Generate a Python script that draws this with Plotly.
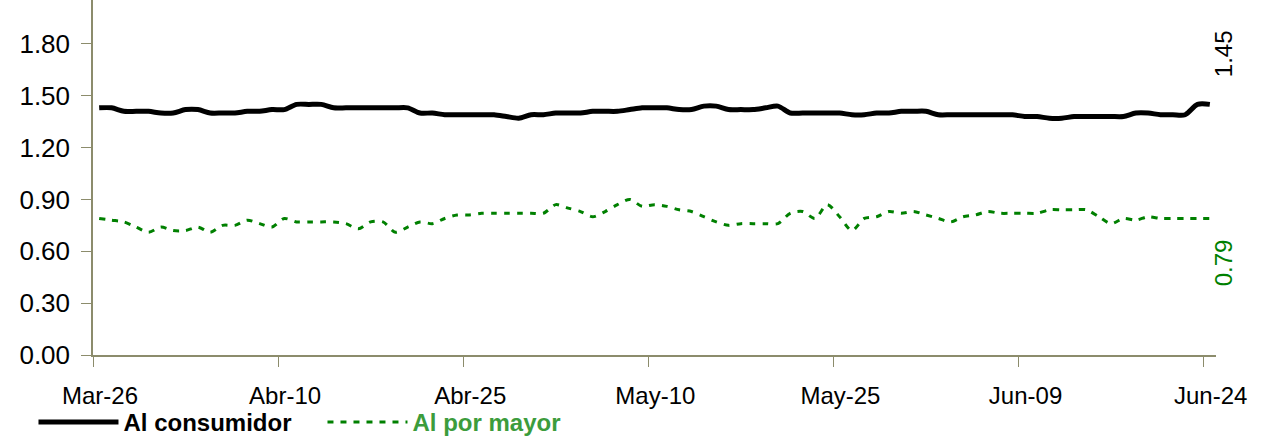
import pandas as pd
import plotly.graph_objects as go

# ---- data ----
dates = pd.date_range("2008-03-26", "2008-06-24", freq="D")

consumidor = [
    1.43, 1.43, 1.41, 1.41, 1.41, 1.40, 1.40, 1.42, 1.42, 1.40,
    1.40, 1.40, 1.41, 1.41, 1.42, 1.42, 1.45, 1.45, 1.45, 1.43,
    1.43, 1.43, 1.43, 1.43, 1.43, 1.43, 1.40, 1.40, 1.39, 1.39,
    1.39, 1.39, 1.39, 1.38, 1.37, 1.39, 1.39, 1.40, 1.40, 1.40,
    1.41, 1.41, 1.41, 1.42, 1.43, 1.43, 1.43, 1.42, 1.42, 1.44,
    1.44, 1.42, 1.42, 1.42, 1.43, 1.44, 1.40, 1.40, 1.40, 1.40,
    1.40, 1.39, 1.39, 1.40, 1.40, 1.41, 1.41, 1.41, 1.39, 1.39,
    1.39, 1.39, 1.39, 1.39, 1.39, 1.38, 1.38, 1.37, 1.37, 1.38,
    1.38, 1.38, 1.38, 1.38, 1.40, 1.40, 1.39, 1.39, 1.39, 1.45,
    1.45,
]

por_mayor = [
    0.79, 0.78, 0.77, 0.74, 0.71, 0.74, 0.72, 0.72, 0.74, 0.71,
    0.75, 0.75, 0.78, 0.76, 0.74, 0.79, 0.77, 0.77, 0.77, 0.77,
    0.76, 0.73, 0.77, 0.77, 0.71, 0.74, 0.77, 0.76, 0.79, 0.81,
    0.81, 0.82, 0.82, 0.82, 0.82, 0.82, 0.82, 0.87, 0.85, 0.83,
    0.80, 0.83, 0.87, 0.90, 0.86, 0.87, 0.86, 0.84, 0.83, 0.80,
    0.77, 0.75, 0.76, 0.76, 0.76, 0.76, 0.82, 0.83, 0.79, 0.87,
    0.80, 0.72, 0.79, 0.80, 0.83, 0.82, 0.83, 0.81, 0.79, 0.77,
    0.80, 0.81, 0.83, 0.82, 0.82, 0.82, 0.82, 0.84, 0.84, 0.84,
    0.84, 0.80, 0.76, 0.79, 0.78, 0.80, 0.79, 0.79, 0.79, 0.79,
    0.79,
]

tick_dates = ["2008-03-26", "2008-04-10", "2008-04-25", "2008-05-10",
              "2008-05-25", "2008-06-09", "2008-06-24"]
tick_labels = ["Mar-26", "Abr-10", "Abr-25", "May-10", "May-25", "Jun-09", "Jun-24"]

y_ticks = [0.0, 0.3, 0.6, 0.9, 1.2, 1.5, 1.8]

series_names = ["Al consumidor", "Al por mayor"]

# ---- styles ----
BLACK = "#000000"
GREEN = "#008000"
GREEN_TXT = "#3C9C3C"
AXIS = "#8C8C6C"
FONT = "Liberation Sans, Arial, sans-serif"

half_day = pd.Timedelta(hours=12)
tick_pos = [pd.Timestamp(d) - half_day for d in tick_dates]

fig = go.Figure()
fig.add_trace(go.Scatter(
    x=dates, y=consumidor, mode="lines",
    name="<b>" + series_names[0] + "</b>",
    line=dict(color=BLACK, width=5, shape="spline", smoothing=0.8),
))
fig.add_trace(go.Scatter(
    x=dates, y=por_mayor, mode="lines",
    name="<span style='color:%s'><b>%s</b></span>" % (GREEN_TXT, series_names[1]),
    line=dict(color=GREEN, width=3, dash="6px,7px", shape="spline", smoothing=0.8),
))

# end-value labels
fig.add_annotation(x=dates[-1], y=consumidor[-1], text=f"{consumidor[-1]:.2f}",
                   textangle=-90, showarrow=False, xshift=14, yshift=51,
                   font=dict(family=FONT, size=24, color=BLACK))
fig.add_annotation(x=dates[-1], y=por_mayor[-1], text=f"{por_mayor[-1]:.2f}",
                   textangle=-90, showarrow=False, xshift=14, yshift=-44,
                   font=dict(family=FONT, size=24, color=GREEN))

fig.update_layout(
    width=1282, height=445,
    margin=dict(l=93, r=66, t=0, b=90, autoexpand=False),
    paper_bgcolor="white", plot_bgcolor="white",
    font=dict(family=FONT, size=24, color="#000000"),
    showlegend=True,
    legend=dict(orientation="h", x=-0.053, xanchor="left", y=-0.19, yanchor="middle",
                font=dict(family=FONT, size=24, color="#000000"),
                itemwidth=80, entrywidth=194, entrywidthmode="pixels",
                traceorder="normal", bgcolor="rgba(0,0,0,0)"),
    xaxis=dict(
        type="date",
        range=[dates[0] - half_day, dates[-1] + half_day],
        tickvals=tick_pos, ticktext=tick_labels,
        ticks="outside", ticklen=10, tickcolor=AXIS, tickwidth=1,
        ticklabelshift=7, ticklabelstandoff=8,
        showline=True, linecolor=AXIS, linewidth=1.5,
        showgrid=False, zeroline=False,
        tickfont=dict(family=FONT, size=24, color="#000000"),
    ),
    yaxis=dict(
        range=[0, 2.054],
        tickvals=y_ticks, tickformat=".2f",
        ticks="outside", ticklen=10, tickcolor=AXIS, tickwidth=1,
        ticklabelstandoff=6,
        showline=True, linecolor=AXIS, linewidth=1.5,
        showgrid=False, zeroline=False,
        tickfont=dict(family=FONT, size=26, color="#000000"),
    ),
)

fig.write_html("out.html", config={"displayModeBar": False},
               post_script="document.body.style.margin='0';")
